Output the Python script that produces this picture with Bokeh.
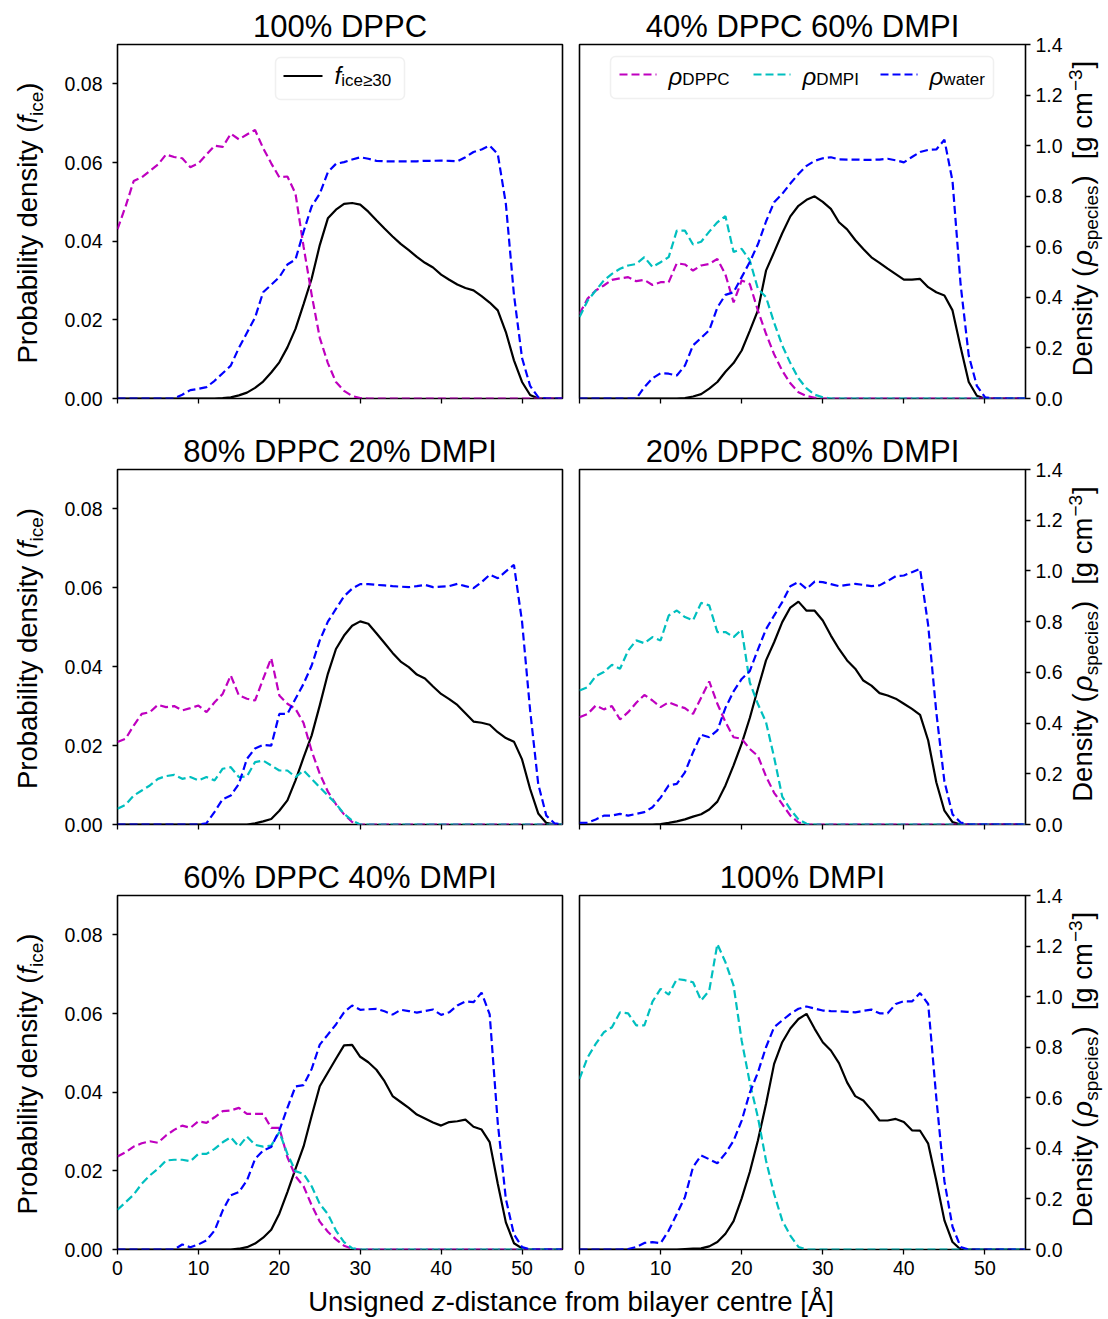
import math
from bokeh.plotting import figure
from bokeh.models import (Range1d, LinearAxis, FixedTicker, NumeralTickFormatter,
                          Label, BoxAnnotation, Arrow, ColumnDataSource, Title)
from bokeh.layouts import row, column
from bokeh.embed import file_html
from bokeh.resources import INLINE
from bokeh.core.validation import silence
from bokeh.core.validation.warnings import MISSING_RENDERERS

silence(MISSING_RENDERERS, True)

FONT = "Liberation Sans"

# ---------------- data ----------------
z_dist = [0, 1, 2, 3, 4, 5, 6, 7, 8, 9, 10, 11, 12, 13, 14, 15, 16, 17, 18, 19,
          20, 21, 22, 23, 24, 25, 26, 27, 28, 29, 30, 31, 32, 33, 34, 35, 36, 37, 38, 39,
          40, 41, 42, 43, 44, 45, 46, 47, 48, 49, 50, 51, 52, 53, 54, 55]
z_ticks = [0, 10, 20, 30, 40, 50]
f_ticks = [0.0, 0.02, 0.04, 0.06, 0.08]
dens_ticks = [0.0, 0.2, 0.4, 0.6, 0.8, 1.0, 1.2, 1.4]

titles = ["100% DPPC", "40% DPPC 60% DMPI", "80% DPPC 20% DMPI",
          "20% DPPC 80% DMPI", "60% DPPC 40% DMPI", "100% DMPI"]

# 100% DPPC
ice_100dppc = [0, 0, 0, 0, 0, 0, 0, 0, 0, 0,
               0, 0, 0, 0.0001, 0.0003, 0.0008, 0.0015, 0.0027, 0.0043, 0.0066,
               0.0092, 0.013, 0.0177, 0.024, 0.0305, 0.039, 0.0458, 0.048, 0.0495, 0.0497,
               0.0493, 0.0475, 0.0453, 0.0432, 0.0412, 0.0393, 0.0377, 0.036, 0.0345, 0.0333,
               0.0315, 0.0302, 0.029, 0.0281, 0.0275, 0.026, 0.0244, 0.0224, 0.0169, 0.0097,
               0.0042, 0.0009, 0, 0, 0, 0]
dppc_100dppc = [0.67, 0.76, 0.86, 0.875, 0.90, 0.925, 0.965, 0.955, 0.95, 0.915,
                0.93, 0.965, 1.0, 0.995, 1.047, 1.025, 1.044, 1.062, 0.99, 0.93,
                0.875, 0.878, 0.81, 0.60, 0.41, 0.24, 0.14, 0.065, 0.03, 0.01,
                0.002, 0, 0, 0, 0, 0, 0, 0, 0, 0,
                0, 0, 0, 0, 0, 0, 0, 0, 0, 0,
                0, 0, 0, 0, 0, 0]
water_100dppc = [0, 0, 0, 0, 0, 0, 0, 0, 0.015, 0.033,
                 0.038, 0.045, 0.07, 0.1, 0.13, 0.2, 0.26, 0.32, 0.42, 0.45,
                 0.48, 0.53, 0.55, 0.66, 0.76, 0.81, 0.895, 0.928, 0.935, 0.945,
                 0.954, 0.948, 0.94, 0.938, 0.938, 0.938, 0.938, 0.938, 0.94, 0.94,
                 0.941, 0.94, 0.938, 0.954, 0.975, 0.985, 1.0, 0.967, 0.77, 0.41,
                 0.16, 0.05, 0.005, 0, 0, 0]

# 40% DPPC 60% DMPI
ice_40dppc = [0, 0, 0, 0, 0, 0, 0, 0, 0, 0,
              0, 0, 0, 0.0001, 0.0005, 0.0011, 0.0025, 0.0042, 0.0068, 0.009,
              0.0122, 0.0172, 0.0224, 0.0325, 0.0372, 0.042, 0.0463, 0.049, 0.0505, 0.0514,
              0.05, 0.0482, 0.0448, 0.043, 0.0403, 0.038, 0.0359, 0.0345, 0.033, 0.0316,
              0.0302, 0.0302, 0.0304, 0.0283, 0.027, 0.0262, 0.0224, 0.013, 0.0042, 0.0007,
              0, 0, 0, 0, 0, 0]
dppc_40dppc = [0.335, 0.395, 0.427, 0.447, 0.469, 0.475, 0.48, 0.464, 0.469, 0.449,
               0.46, 0.46, 0.535, 0.53, 0.506, 0.526, 0.532, 0.552, 0.49, 0.38,
               0.467, 0.453, 0.348, 0.256, 0.175, 0.11, 0.06, 0.025, 0.01, 0.003,
               0, 0, 0, 0, 0, 0, 0, 0, 0, 0,
               0, 0, 0, 0, 0, 0, 0, 0, 0, 0,
               0, 0, 0, 0, 0, 0]
dmpi_40dppc = [0.322, 0.387, 0.427, 0.467, 0.493, 0.513, 0.526, 0.532, 0.559, 0.52,
               0.539, 0.559, 0.664, 0.664, 0.609, 0.62, 0.66, 0.697, 0.721, 0.579,
               0.592, 0.546, 0.434, 0.401, 0.30, 0.21, 0.14, 0.08, 0.04, 0.015,
               0.005, 0, 0, 0, 0, 0, 0, 0, 0, 0,
               0, 0, 0, 0, 0, 0, 0, 0, 0, 0,
               0, 0, 0, 0, 0, 0]
water_40dppc = [0, 0, 0, 0, 0, 0, 0, 0, 0.045, 0.08,
                0.1, 0.098, 0.091, 0.13, 0.21, 0.24, 0.27, 0.36, 0.41, 0.42,
                0.48, 0.54, 0.61, 0.70, 0.776, 0.809, 0.85, 0.888, 0.92, 0.94,
                0.95, 0.954, 0.946, 0.945, 0.945, 0.944, 0.944, 0.945, 0.948, 0.942,
                0.934, 0.955, 0.975, 0.983, 0.985, 1.023, 0.86, 0.45, 0.17, 0.05,
                0.005, 0, 0, 0, 0, 0]

# 80% DPPC 20% DMPI
ice_80dppc = [0, 0, 0, 0, 0, 0, 0, 0, 0, 0,
              0, 0, 0, 0, 0, 0, 0, 0.0003, 0.0008, 0.0014,
              0.0035, 0.0061, 0.0112, 0.017, 0.0226, 0.0302, 0.0382, 0.0445, 0.0479, 0.0504,
              0.0515, 0.0509, 0.0485, 0.046, 0.0435, 0.0413, 0.0399, 0.038, 0.037, 0.035,
              0.0331, 0.0318, 0.0303, 0.0282, 0.0261, 0.0258, 0.0253, 0.0234, 0.0219, 0.021,
              0.0165, 0.009, 0.0028, 0.0004, 0, 0]
dppc_80dppc = [0.325, 0.338, 0.39, 0.436, 0.443, 0.472, 0.463, 0.467, 0.45, 0.459,
               0.469, 0.443, 0.482, 0.515, 0.588, 0.509, 0.496, 0.489, 0.574, 0.656,
               0.509, 0.476, 0.456, 0.40, 0.29, 0.20, 0.13, 0.08, 0.04, 0.01,
               0, 0, 0, 0, 0, 0, 0, 0, 0, 0,
               0, 0, 0, 0, 0, 0, 0, 0, 0, 0,
               0, 0, 0, 0, 0, 0]
dmpi_80dppc = [0.062, 0.078, 0.114, 0.134, 0.154, 0.18, 0.191, 0.196, 0.18, 0.187,
               0.174, 0.187, 0.174, 0.22, 0.226, 0.187, 0.19, 0.246, 0.252, 0.233,
               0.213, 0.213, 0.187, 0.213, 0.18, 0.147, 0.114, 0.082, 0.042, 0.016,
               0, 0, 0, 0, 0, 0, 0, 0, 0, 0,
               0, 0, 0, 0, 0, 0, 0, 0, 0, 0,
               0, 0, 0, 0, 0, 0]
water_80dppc = [0, 0, 0, 0, 0, 0, 0, 0, 0, 0,
                0, 0.005, 0.05, 0.1, 0.114, 0.16, 0.259, 0.30, 0.314, 0.311,
                0.436, 0.436, 0.496, 0.555, 0.627, 0.726, 0.80, 0.85, 0.90, 0.93,
                0.948, 0.948, 0.945, 0.943, 0.94, 0.938, 0.936, 0.94, 0.945, 0.936,
                0.938, 0.94, 0.949, 0.94, 0.932, 0.956, 0.985, 0.971, 0.998, 1.024,
                0.80, 0.45, 0.16, 0.035, 0.005, 0]

# 20% DPPC 80% DMPI
ice_20dppc = [0, 0, 0, 0, 0, 0, 0, 0, 0, 0,
              0.0001, 0.0004, 0.0008, 0.0013, 0.002, 0.0026, 0.0038, 0.0058, 0.0099, 0.015,
              0.0205, 0.027, 0.0344, 0.0416, 0.0462, 0.0513, 0.055, 0.0565, 0.0542, 0.0542,
              0.0517, 0.0479, 0.0445, 0.0416, 0.0395, 0.0365, 0.0352, 0.0333, 0.0327, 0.0319,
              0.0306, 0.0293, 0.0278, 0.0213, 0.0107, 0.0035, 0.0006, 0, 0, 0,
              0, 0, 0, 0, 0, 0]
dppc_20dppc = [0.423, 0.436, 0.469, 0.454, 0.467, 0.414, 0.443, 0.48, 0.511, 0.489,
               0.463, 0.482, 0.469, 0.459, 0.436, 0.50, 0.564, 0.476, 0.404, 0.344,
               0.338, 0.298, 0.27, 0.19, 0.125, 0.08, 0.035, 0.008, 0, 0,
               0, 0, 0, 0, 0, 0, 0, 0, 0, 0,
               0, 0, 0, 0, 0, 0, 0, 0, 0, 0,
               0, 0, 0, 0, 0, 0]
dmpi_20dppc = [0.528, 0.542, 0.585, 0.601, 0.63, 0.614, 0.686, 0.726, 0.715, 0.739,
               0.726, 0.824, 0.844, 0.818, 0.805, 0.874, 0.864, 0.759, 0.759, 0.739,
               0.769, 0.56, 0.475, 0.404, 0.265, 0.11, 0.06, 0.02, 0.003, 0,
               0, 0, 0, 0, 0, 0, 0, 0, 0, 0,
               0, 0, 0, 0, 0, 0, 0, 0, 0, 0,
               0, 0, 0, 0, 0, 0]
water_20dppc = [0.007, 0.007, 0.02, 0.035, 0.035, 0.042, 0.035, 0.042, 0.049, 0.068,
                0.106, 0.154, 0.16, 0.206, 0.285, 0.354, 0.344, 0.371, 0.46, 0.525,
                0.574, 0.605, 0.69, 0.77, 0.824, 0.877, 0.94, 0.956, 0.929, 0.958,
                0.956, 0.948, 0.94, 0.945, 0.949, 0.945, 0.94, 0.943, 0.96, 0.979,
                0.982, 0.995, 1.008, 0.785, 0.443, 0.17, 0.04, 0.008, 0, 0,
                0, 0, 0, 0, 0, 0]

# 60% DPPC 40% DMPI
ice_60dppc = [0, 0, 0, 0, 0, 0, 0, 0, 0, 0,
              0, 0, 0, 0, 0, 0.0002, 0.0006, 0.0015, 0.003, 0.005,
              0.0091, 0.0146, 0.0205, 0.0262, 0.034, 0.0415, 0.045, 0.0485, 0.0519, 0.052,
              0.049, 0.0476, 0.0457, 0.0428, 0.039, 0.0375, 0.036, 0.0343, 0.0333, 0.0323,
              0.0315, 0.0324, 0.0326, 0.033, 0.0312, 0.0305, 0.0273, 0.0167, 0.0069, 0.0016,
              0.0003, 0, 0, 0, 0, 0]
dppc_60dppc = [0.368, 0.385, 0.407, 0.42, 0.428, 0.422, 0.451, 0.473, 0.49, 0.481,
               0.507, 0.501, 0.523, 0.547, 0.55, 0.56, 0.536, 0.536, 0.536, 0.481,
               0.481, 0.365, 0.29, 0.25, 0.175, 0.11, 0.07, 0.04, 0.015, 0.003,
               0, 0, 0, 0, 0, 0, 0, 0, 0, 0,
               0, 0, 0, 0, 0, 0, 0, 0, 0, 0,
               0, 0, 0, 0, 0, 0]
dmpi_60dppc = [0.157, 0.187, 0.217, 0.26, 0.293, 0.319, 0.352, 0.355, 0.355, 0.349,
               0.378, 0.378, 0.398, 0.424, 0.444, 0.407, 0.447, 0.414, 0.407, 0.411,
               0.464, 0.378, 0.31, 0.299, 0.25, 0.18, 0.14, 0.075, 0.029, 0.005,
               0, 0, 0, 0, 0, 0, 0, 0, 0, 0,
               0, 0, 0, 0, 0, 0, 0, 0, 0, 0,
               0, 0, 0, 0, 0, 0]
water_60dppc = [0, 0, 0, 0, 0, 0, 0, 0, 0.02, 0.009,
                0.02, 0.036, 0.075, 0.154, 0.214, 0.227, 0.273, 0.358, 0.391, 0.405,
                0.471, 0.56, 0.645, 0.65, 0.714, 0.81, 0.85, 0.89, 0.938, 0.965,
                0.948, 0.95, 0.952, 0.942, 0.929, 0.948, 0.943, 0.937, 0.943, 0.949,
                0.928, 0.938, 0.965, 0.981, 0.978, 1.016, 0.93, 0.50, 0.20, 0.06,
                0.01, 0, 0, 0, 0, 0]

# 100% DMPI
ice_100dmpi = [0, 0, 0, 0, 0, 0, 0, 0, 0, 0,
               0, 0, 0, 0.0001, 0.0002, 0.0003, 0.0008, 0.0019, 0.004, 0.0072,
               0.013, 0.0197, 0.0277, 0.037, 0.0472, 0.0527, 0.0562, 0.0586, 0.0599, 0.0561,
               0.0527, 0.0506, 0.0474, 0.0425, 0.039, 0.0379, 0.0355, 0.0328, 0.0328, 0.0332,
               0.0324, 0.0303, 0.0302, 0.0269, 0.0175, 0.0074, 0.0019, 0, 0, 0,
               0, 0, 0, 0, 0, 0]
dmpi_100dmpi = [0.675, 0.76, 0.813, 0.859, 0.879, 0.938, 0.934, 0.886, 0.886, 0.98,
                1.031, 1.008, 1.07, 1.065, 1.057, 0.985, 1.024, 1.208, 1.136, 1.044,
                0.826, 0.66, 0.523, 0.352, 0.22, 0.115, 0.055, 0.01, 0, 0,
                0, 0, 0, 0, 0, 0, 0, 0, 0, 0,
                0, 0, 0, 0, 0, 0, 0, 0, 0, 0,
                0, 0, 0, 0, 0, 0]
water_100dmpi = [0, 0, 0, 0, 0, 0, 0.002, 0.01, 0.026, 0.029,
                 0.025, 0.075, 0.14, 0.207, 0.326, 0.372, 0.357, 0.341, 0.38, 0.43,
                 0.51, 0.62, 0.70, 0.80, 0.879, 0.906, 0.932, 0.952, 0.961, 0.953,
                 0.945, 0.943, 0.942, 0.94, 0.938, 0.944, 0.949, 0.934, 0.934, 0.971,
                 0.982, 0.981, 1.014, 0.971, 0.6, 0.27, 0.09, 0.01, 0, 0,
                 0, 0, 0, 0, 0, 0]

panel_series = [
    (ice_100dppc, dppc_100dppc, None, water_100dppc),
    (ice_40dppc, dppc_40dppc, dmpi_40dppc, water_40dppc),
    (ice_80dppc, dppc_80dppc, dmpi_80dppc, water_80dppc),
    (ice_20dppc, dppc_20dppc, dmpi_20dppc, water_20dppc),
    (ice_60dppc, dppc_60dppc, dmpi_60dppc, water_60dppc),
    (ice_100dmpi, None, dmpi_100dmpi, water_100dmpi),
]

# ---------------- styling / layout ----------------
C_DPPC = "#bf00bf"
C_DMPI = "#00bfbf"
C_WATER = "#0000ff"
C_ICE = "#000000"
LW = 2.2
DASH = "8 4"

TICK_FS = "19.5px"
LABEL_FS = 27.5
SUB_FS = 19
TITLE_FS = "31px"
BASELINE_FIX = 0.345   # Label draws its text ~0.345 em below the requested baseline

PAGE_W = 1108
YLAB_W = 50          # strip holding the left axis label
RLAB_W = 42          # strip holding the right axis label
FRAME_W = [445, 446]
FRAME_H = [354, 355, 354]
BORDER_L = [67, 9]
BORDER_R = [8, 41]
BORDER_T = [44, 42, 42]
BORDER_B = [29, 29, 34]
XSTANDOFF = [0, 0, 6]
XLAB_STRIP_H = 35

CHAR_W = {' ': 278, '(': 333, ')': 333, '[': 278, ']': 278, '-': 333, '\u2212': 584,
          '\u2265': 549, '\u00c5': 667, '.': 278, 'P': 667, 'D': 722, 'U': 722, 'C': 722,
          'M': 833, 'I': 278, 'a': 556, 'b': 556, 'c': 500, 'd': 556, 'e': 556, 'f': 278,
          'g': 556, 'i': 222, 'l': 222, 'm': 833, 'n': 556, 'o': 556, 'p': 556, 'r': 333,
          's': 500, 't': 278, 'u': 556, 'w': 722, 'y': 500, 'z': 500, '\u03c1': 578}


def text_w(s, size):
    if s == "":
        return size          # explicit gap of `size` pixels
    return sum(CHAR_W.get(c, 556) for c in s) * size / 1000.0


def lab(p, x, y, text, size, style="normal", angle=0.0, align="left"):
    # x, y give the wanted alphabetic baseline point
    if angle == 0.0:
        y = y + BASELINE_FIX * size
    else:
        x = x - BASELINE_FIX * size
    p.add_layout(Label(x=x, y=y, x_units="screen", y_units="screen", text=text,
                       text_font=FONT, text_font_size=f"{size}px",
                       text_font_style=style, text_color="black",
                       text_align=align, text_baseline="alphabetic", angle=angle))


def rich_h(p, x0, y0, pieces):
    x = x0
    for t, s, st, d in pieces:
        if t.strip():
            lab(p, x, y0 + d, t, s, st)
        x += text_w(t, s)


def rich_v(p, xb, yc, pieces):
    total = sum(text_w(t, s) for t, s, st, d in pieces)
    y = yc - total / 2.0
    for t, s, st, d in pieces:
        if t.strip():
            lab(p, xb + d, y, t, s, st, angle=math.pi / 2)
        y += text_w(t, s)


def strip(width, height):
    s = figure(width=width, height=height, min_border=0, x_range=Range1d(0, 1),
               y_range=Range1d(0, 1), x_axis_location=None, y_axis_location=None,
               output_backend="svg", toolbar_location=None, tools="", title=None)
    s.outline_line_color = None
    s.grid.visible = False
    s.background_fill_color = "white"
    s.border_fill_color = "white"
    return s


def style_axis(ax, standoff):
    ax.axis_line_color = None
    ax.major_tick_out = 5
    ax.major_tick_in = 0
    ax.major_tick_line_width = 1.3
    ax.major_tick_line_color = "black"
    ax.minor_tick_line_color = None
    ax.major_label_text_font = FONT
    ax.major_label_text_font_size = TICK_FS
    ax.major_label_text_color = "black"
    ax.major_label_standoff = standoff


def legend_line(p, x0, x1, y, color, dash):
    p.add_layout(Arrow(x_start=x0, y_start=y, x_end=x1, y_end=y,
                       start_units="screen", end_units="screen", start=None, end=None,
                       line_color=color, line_width=LW, line_dash=dash))


def legend_box(p, left, right, bottom, top):
    p.add_layout(BoxAnnotation(left=left, right=right, bottom=bottom, top=top,
                               left_units="screen", right_units="screen",
                               bottom_units="screen", top_units="screen",
                               fill_color="white", fill_alpha=0.8,
                               line_color="#cccccc", line_width=1.5, border_radius=5))


def make_panel(idx):
    r, c = divmod(idx, 2)
    ice, dppc, dmpi, water = panel_series[idx]
    fw, fh = FRAME_W[c], FRAME_H[r]
    p = figure(frame_width=fw, frame_height=fh,
               min_border_left=BORDER_L[c], min_border_right=BORDER_R[c],
               min_border_top=BORDER_T[r], min_border_bottom=BORDER_B[r],
               x_range=Range1d(0, 55), y_range=Range1d(0, 0.09),
               y_axis_location="left" if c == 0 else None,
               output_backend="svg", toolbar_location=None, tools="", title=None)
    p.add_layout(Title(text=titles[idx], align="center", text_font=FONT,
                       text_font_size=TITLE_FS, text_font_style="normal",
                       text_color="black", standoff=2), "above")
    p.extra_y_ranges = {"dens": Range1d(0, 1.4)}
    p.background_fill_color = "white"
    p.border_fill_color = "white"
    p.outline_line_color = "black"
    p.outline_line_width = 1.6
    p.grid.visible = False

    src = ColumnDataSource(dict(z=z_dist, ice=ice, water=water,
                                dppc=dppc if dppc else [0] * len(z_dist),
                                dmpi=dmpi if dmpi else [0] * len(z_dist)))
    p.line("z", "ice", source=src, line_color=C_ICE, line_width=LW)
    if dppc:
        p.line("z", "dppc", source=src, y_range_name="dens", line_color=C_DPPC,
               line_width=LW, line_dash=DASH)
    if dmpi:
        p.line("z", "dmpi", source=src, y_range_name="dens", line_color=C_DMPI,
               line_width=LW, line_dash=DASH)
    p.line("z", "water", source=src, y_range_name="dens", line_color=C_WATER,
           line_width=LW, line_dash=DASH)

    p.xaxis.ticker = FixedTicker(ticks=z_ticks)
    style_axis(p.xaxis[0], XSTANDOFF[r])
    if r < 2:
        p.xaxis.major_label_overrides = {t: "" for t in z_ticks}

    if c == 0:
        p.yaxis.ticker = FixedTicker(ticks=f_ticks)
        p.yaxis.formatter = NumeralTickFormatter(format="0.00")
        style_axis(p.yaxis[0], 10)
    else:
        ax = LinearAxis(y_range_name="dens", ticker=FixedTicker(ticks=dens_ticks),
                        formatter=NumeralTickFormatter(format="0.0"))
        style_axis(ax, 5)
        p.add_layout(ax, "right")

    if idx == 0:
        legend_box(p, 158, 287, 299, 341)
        legend_line(p, 166, 205, 322.5, C_ICE, "solid")
        rich_h(p, 217, 315, [("f", 24, "italic", 0), ("ice\u226530", 17, "normal", -2.5)])
    if idx == 1:
        legend_box(p, 31, 414, 300, 342)
        for color, x0, name in [(C_DPPC, 40, "DPPC"), (C_DMPI, 174, "DMPI"),
                                (C_WATER, 301, "water")]:
            legend_line(p, x0, x0 + 37, 324, color, DASH)
            rich_h(p, x0 + 49, 314, [("\u03c1", 24, "italic", 0), (name, 17, "normal", -0.5)])
    return p


blocks = []
for r in range(3):
    fh = FRAME_H[r]
    ph = BORDER_T[r] + fh + BORDER_B[r]

    # side strips: inside a row their frames line up with the panel frames,
    # so their screen y is measured from the panel frame bottom
    ys = strip(YLAB_W, ph)
    rich_v(ys, 36.7, fh / 2.0 - 1.5, [
        ("Probability density (", LABEL_FS, "normal", 0),
        ("f", LABEL_FS, "italic", 0),
        ("ice", SUB_FS, "normal", 5.5),
        (")", LABEL_FS, "normal", 0)])

    rs = strip(RLAB_W, ph)
    rich_v(rs, 25.7, fh / 2.0 + 3, [
        ("Density (", LABEL_FS, "normal", 0),
        ("", 2, None, 0),
        ("\u03c1", LABEL_FS, "italic", 0),
        ("species", SUB_FS, "normal", 5.5),
        ("", 1, None, 0),
        (")", LABEL_FS, "normal", 0),
        ("", 16, None, 0),
        ("[g cm", LABEL_FS, "normal", 0),
        ("", 1, None, 0),
        ("\u22123", SUB_FS, "normal", -10.5),
        ("", 1, None, 0),
        ("]", LABEL_FS, "normal", 0)])

    pl = make_panel(2 * r)
    pr = make_panel(2 * r + 1)
    blocks.append(row(ys, pl, pr, rs))

xs = strip(PAGE_W, XLAB_STRIP_H)
xpieces = [("Unsigned", LABEL_FS, "normal", 0), (" ", LABEL_FS, "normal", 0),
           ("z", LABEL_FS, "italic", 0),
           ("-distance from bilayer centre [\u00c5]", LABEL_FS, "normal", 0)]
xtotal = sum(text_w(t, s) for t, s, st, d in xpieces)
rich_h(xs, 570.5 - xtotal / 2.0, 8, xpieces)
blocks.append(xs)

layout = column(*blocks)

open("out.html", "w").write(file_html(layout, INLINE))
